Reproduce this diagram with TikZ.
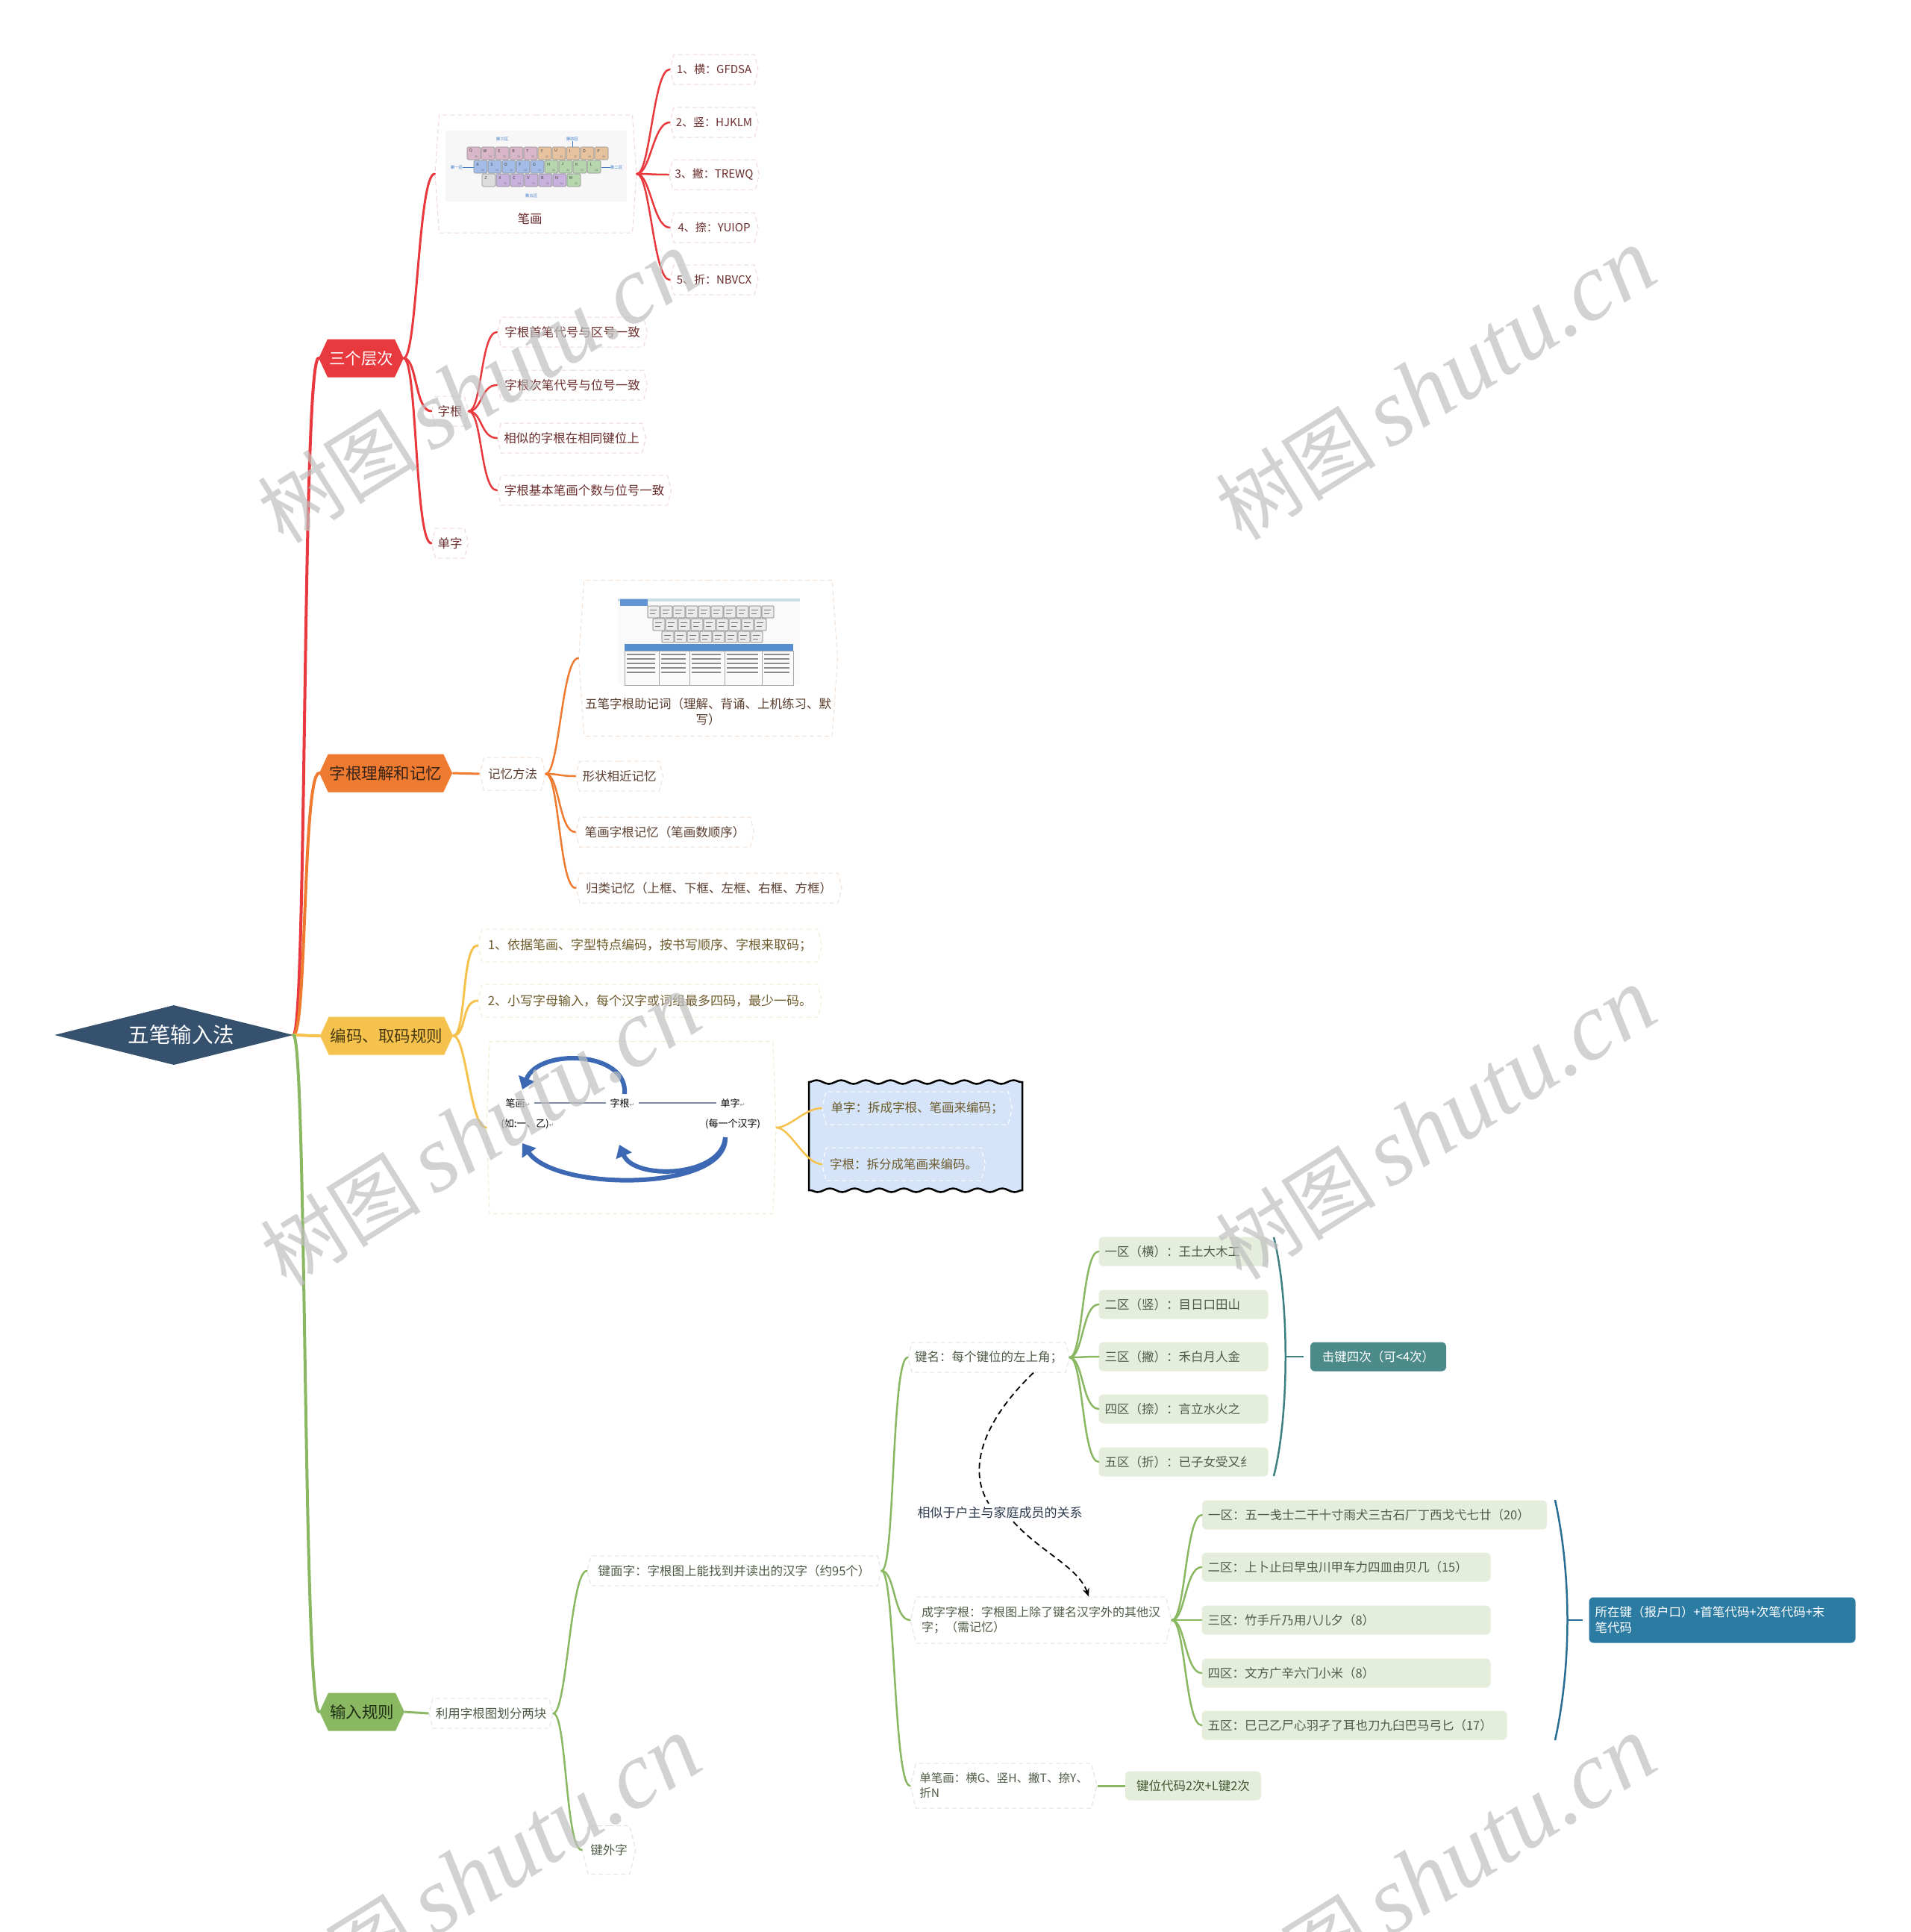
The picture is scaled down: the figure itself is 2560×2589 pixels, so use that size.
\documentclass[tikz,border=0pt]{standalone}
\usepackage{fontspec}
\setmainfont{Noto Sans CJK SC}
\newfontfamily\wmfont{Liberation Serif}
\newfontfamily\symfont{DejaVu Sans}
\usetikzlibrary{shapes.geometric,shapes.symbols,decorations.pathmorphing,arrows.meta,calc}

\definecolor{cRed}{HTML}{E8393E}
\definecolor{cOrange}{HTML}{EE7B2F}
\definecolor{cYellow}{HTML}{F4C24D}
\definecolor{cGreen}{HTML}{8AB862}
\definecolor{cRoot}{HTML}{35516E}
\definecolor{tRed}{HTML}{6B2D2D}
\definecolor{tOrange}{HTML}{5A3D2E}
\definecolor{tYellow}{HTML}{6E5B2C}
\definecolor{tGreen}{HTML}{4F5B46}
\definecolor{tOrangeDark}{HTML}{3A2418}
\definecolor{tYellowDark}{HTML}{4A3A10}
\definecolor{tGreenDark}{HTML}{1F2E14}
\definecolor{bRed}{HTML}{F0D6D6}
\definecolor{bOrange}{HTML}{F2E0D3}
\definecolor{bYellow}{HTML}{F2EAD0}
\definecolor{bGreen}{HTML}{E2E2E2}
\definecolor{leafGreen}{HTML}{E5EEDC}
\definecolor{cTeal}{HTML}{4C8B89}
\definecolor{cTealLine}{HTML}{3E8082}
\definecolor{cBlue}{HTML}{2B7BA3}
\definecolor{cBlueLine}{HTML}{2A6D94}
\definecolor{waveFill}{HTML}{D5E4F8}
\definecolor{arrowBlue}{HTML}{3C68B4}
\definecolor{kbBlue}{HTML}{3A7AC8}
\definecolor{kbP}{HTML}{D9B7C8}
\definecolor{kbT}{HTML}{E6C39E}
\definecolor{kbB}{HTML}{A3BCE8}
\definecolor{kbG}{HTML}{B6D7AE}
\definecolor{kbV}{HTML}{C7B2DE}
\definecolor{kbZ}{HTML}{DDDDDD}
\definecolor{lblColor}{HTML}{2E3B4E}
\definecolor{g7text}{HTML}{3F5530}

\newcommand\lnk[3]{\draw[line cap=round,#1] (#2) .. controls ([xshift=18pt]#2) and ([xshift=-22pt]#3) .. (#3);}
\newcommand\retm{{\symfont\fontsize{8}{9}\selectfont\textcolor{black!45}{↵}}}

\begin{document}
\begin{tikzpicture}[x=1pt,y=-1pt,
  base/.style={font=\fontsize{16.5}{21}\selectfont, inner sep=3pt},
  mainhex/.style={shape=signal, signal to=east and west, signal pointer angle=130,
     font=\fontsize{21.5}{25}\selectfont, minimum height=51pt, inner sep=2pt},
  subhex/.style={base, shape=signal, signal to=east and west, signal pointer angle=152,
     draw, dash pattern=on 6pt off 4pt, line width=1pt, minimum height=40pt},
  redn/.style={subhex, draw=bRed, text=tRed},
  orn/.style={subhex, draw=bOrange, text=tOrange},
  yen/.style={subhex, draw=bYellow, text=tYellow},
  wbn/.style={subhex, draw=white, text=tYellow},
  grn/.style={subhex, draw=bGreen, text=tGreen},
  leaf/.style={base, rectangle, rounded corners=6pt, fill=leafGreen, text=tGreen,
     minimum height=39pt, inner xsep=8pt, align=left},
  solidbox/.style={base, rectangle, rounded corners=6pt, text=white, inner xsep=8pt, align=left},
  kbkey/.style={draw=black!45, line width=0.6pt, rounded corners=1.5pt},
  kblet/.style={font=\fontsize{5.5}{6}\selectfont, text=black!75, inner sep=0pt},
  kbnum/.style={font=\fontsize{3.5}{4}\selectfont, text=black!60, inner sep=0pt},
  kblab/.style={font=\fontsize{5.5}{6}\selectfont, text=kbBlue, inner sep=0pt},
  dgtext/.style={font=\fontsize{13}{15}\selectfont, text=black, inner sep=1pt},
  bigarrow/.style={line width=6pt, draw=arrowBlue, -{Triangle[length=16pt,width=22pt]}},
  wm/.style={rotate=32, text=black!25, opacity=0.7, inner sep=0pt}
]
\useasboundingbox (0,0) rectangle (2560,2589);
\fill[white] (0,0) rectangle (2560,2589);

% ---------------- root ----------------
\node[diamond, aspect=4, fill=cRoot, minimum width=320pt, minimum height=80pt,
      inner sep=0pt] (root) at (233,1387) {};
\node[text=white, font=\fontsize{28.5}{30}\selectfont, inner sep=0pt] (rootT) at (243,1387) {五笔输入法};

% ---------------- main hexagons ----------------
\node[mainhex, fill=cRed, text=white, minimum width=112pt] (h1) at (484,480) {三个层次};
\node[mainhex, fill=cOrange, text=tOrangeDark, minimum width=172pt] (h2) at (517,1036) {字根理解和记忆};
\node[mainhex, fill=cYellow, text=tYellowDark, minimum width=172pt] (h3) at (518,1388) {编码、取码规则};
\node[mainhex, fill=cGreen, text=tGreenDark, minimum width=110pt] (h4) at (485,2294) {输入规则};

\lnk{cRed,line width=4pt}{root.east}{h1.west}
\lnk{cOrange,line width=4pt}{root.east}{h2.west}
\lnk{cYellow,line width=4pt}{root.east}{h3.west}
\lnk{cGreen,line width=4pt}{root.east}{h4.west}

% ---------------- red branch ----------------
\node[redn, signal pointer angle=172, minimum width=270pt, minimum height=158pt] (bh) at (718,233) {};
\fill[black!3] (597,175) rectangle (840,270);
\foreach \L/\N/\C [count=\i from 0] in {Q/35/kbP,W/34/kbP,E/33/kbP,R/32/kbP,T/31/kbP,Y/41/kbT,U/42/kbT,I/43/kbT,O/44/kbT,P/45/kbT}{
  \draw[kbkey, fill=\C] (626+19*\i,197) rectangle ++(18,17);
  \node[kblet] (ka\i) at (631+19*\i,202) {\L};
  \node[kbnum] (kan\i) at (638+19*\i,210) {\N};
}
\foreach \L/\N/\C [count=\i from 0] in {A/15/kbB,S/14/kbB,D/13/kbB,F/12/kbB,G/11/kbB,H/21/kbG,J/22/kbG,K/23/kbG,L/24/kbG}{
  \draw[kbkey, fill=\C] (635+19*\i,215) rectangle ++(18,17);
  \node[kblet] (kb\i) at (640+19*\i,220) {\L};
  \node[kbnum] (kbn\i) at (647+19*\i,228) {\N};
}
\foreach \L/\N/\C [count=\i from 0] in {Z//kbZ,X/55/kbV,C/54/kbV,V/53/kbV,B/52/kbV,N/51/kbV,M/25/kbG}{
  \draw[kbkey, fill=\C] (646+19*\i,233) rectangle ++(18,17);
  \node[kblet] (kc\i) at (651+19*\i,238) {\L};
  \node[kbnum] (kcn\i) at (658+19*\i,246) {\N};
}
\node[kblab] (kl3) at (673,186) {第三区};
\node[kblab] (kl4) at (767,186) {第四区};
\node[kblab] (kl1) at (612,224) {第一区};
\node[kblab] (kl2) at (826,224) {第二区};
\node[kblab] (kl5) at (712,262) {第五区};
\draw[kbBlue, line width=0.5pt] (kl4.south) -- (767,197);
\draw[kbBlue, line width=0.5pt] (kl1.east) -- (635,224);
\draw[kbBlue, line width=0.5pt] (kl2.west) -- (806,224);
\node[base, text=tRed] (bhT) at (710,293) {笔画};

\node[redn, minimum width=118pt, font=\fontsize{15}{18}\selectfont] (r1) at (957,93) {1、横：GFDSA};
\node[redn, minimum width=118pt, font=\fontsize{15}{18}\selectfont] (r2) at (957,164) {2、竖：HJKLM};
\node[redn, minimum width=118pt, font=\fontsize{15}{18}\selectfont] (r3) at (957,234) {3、撇：TREWQ};
\node[redn, minimum width=118pt, font=\fontsize{15}{18}\selectfont] (r4) at (957,305) {4、捺：YUIOP};
\node[redn, minimum width=118pt, font=\fontsize{15}{18}\selectfont] (r5) at (957,375) {5、折：NBVCX};

\node[redn, minimum width=48pt] (zg) at (603,551) {字根};
\node[redn, minimum width=201pt] (zg1) at (767,445) {字根首笔代号与区号一致};
\node[redn, minimum width=201pt] (zg2) at (767,516) {字根次笔代号与位号一致};
\node[redn, minimum width=199pt] (zg3) at (766,587) {相似的字根在相同键位上};
\node[redn, minimum width=233pt] (zg4) at (783,657) {字根基本笔画个数与位号一致};
\node[redn, minimum width=48pt] (dz) at (603,728) {单字};

\lnk{cRed,line width=3pt}{h1.east}{bh.west}
\lnk{cRed,line width=3pt}{h1.east}{zg.west}
\lnk{cRed,line width=3pt}{h1.east}{dz.west}
\foreach \n in {r1,r2,r3,r4,r5}{\lnk{cRed,line width=2.5pt}{bh.east}{\n.west}}
\foreach \n in {zg1,zg2,zg3,zg4}{\lnk{cRed,line width=2.5pt}{zg.east}{\n.west}}

% ---------------- orange branch ----------------
\node[orn, minimum width=88pt, minimum height=44pt] (jy) at (687,1037) {记忆方法};
\node[orn, signal pointer angle=172, minimum width=347pt, minimum height=209pt] (im2) at (949,882) {};
\fill[black!2] (828,802) rectangle (1072,918);
\fill[cBlue!25] (828,802) rectangle (1072,806);
\fill[kbBlue!80] (831,803) rectangle (868,812);
\foreach \i in {0,...,9}{\draw[fill=black!8, draw=black!55, line width=0.6pt, rounded corners=1pt] (868+17*\i,812) rectangle ++(16,16);
  \draw[black!55, line width=1pt] (871+17*\i,817) -- ++(9,0) (871+17*\i,822) -- ++(7,0);}
\foreach \i in {0,...,8}{\draw[fill=black!8, draw=black!55, line width=0.6pt, rounded corners=1pt] (875+17*\i,829) rectangle ++(16,16);
  \draw[black!55, line width=1pt] (878+17*\i,834) -- ++(9,0) (878+17*\i,839) -- ++(7,0);}
\foreach \i in {0,...,7}{\draw[fill=black!8, draw=black!55, line width=0.6pt, rounded corners=1pt] (887+17*\i,846) rectangle ++(16,15);
  \draw[black!55, line width=1pt] (890+17*\i,851) -- ++(9,0) (890+17*\i,856) -- ++(7,0);}
\fill[kbBlue!85] (837,863) rectangle (1063,872);
\draw[black!35, line width=0.6pt] (837,872) rectangle (1063,918);
\foreach \x in {883,924,971,1021}{\draw[black!35, line width=0.6pt] (\x,872) -- (\x,918);}
\foreach \a/\b in {837/883,883/924,924/971,971/1021,1021/1063}{
  \foreach \y in {877,883,889,895,901}{\draw[black!45, line width=1.3pt] (\a+3,\y) -- (\b-5,\y);}}
\node[base, text=tOrange, align=center] (im2T) at (949,954) {五笔字根助记词（理解、背诵、上机练习、默\\写）};

\node[orn, minimum width=117pt] (o1) at (830,1040) {形状相近记忆};
\node[orn, minimum width=239pt] (o2) at (891,1115) {笔画字根记忆（笔画数顺序）};
\node[orn, minimum width=356pt] (o3) at (950,1190) {归类记忆（上框、下框、左框、右框、方框）};

\draw[cOrange, line width=3pt] (h2.east) -- (jy.west);
\foreach \n in {im2,o1,o2,o3}{\lnk{cOrange,line width=2.5pt}{jy.east}{\n.west}}

% ---------------- yellow branch ----------------
\node[yen, minimum width=461pt, minimum height=44pt, font=\fontsize{17}{20}\selectfont] (y1) at (871,1267) {1、依据笔画、字型特点编码，按书写顺序、字根来取码；};
\node[yen, minimum width=461pt, minimum height=44pt, font=\fontsize{17}{20}\selectfont] (y2) at (871,1341) {2、小写字母输入，每个汉字或词组最多四码，最少一码。};
\node[yen, signal pointer angle=176, minimum width=388pt, minimum height=231pt] (yb) at (846,1511) {};

\node[dgtext] (d1) at (694,1478) {笔画\retm};
\node[dgtext] (d2) at (834,1478) {字根\retm};
\node[dgtext] (d3) at (982,1478) {单字\retm};
\node[dgtext] (d4) at (707,1506) {(如:一、乙)\retm};
\node[dgtext] (d5) at (982,1506) {(每一个汉字)};
\draw[black!40!arrowBlue!60, line width=1.2pt] ([xshift=4pt]d1.east) -- ([xshift=-4pt]d2.west);
\draw[black!40!arrowBlue!60, line width=1.2pt] ([xshift=4pt]d2.east) -- ([xshift=-4pt]d3.west);
\draw[bigarrow] (837,1466) .. controls (842,1408) and (722,1404) .. (700,1460);
\draw[bigarrow] (972,1524) .. controls (975,1597) and (745,1597) .. (700,1532);
\draw[bigarrow] (972,1524) .. controls (968,1578) and (850,1582) .. (830,1534);

\draw[line width=2.5pt, fill=waveFill, decoration={snake, amplitude=2.5pt, segment length=33pt}]
  (1084,1450) decorate {-- (1370,1450)} -- (1370,1595) decorate {-- (1084,1595)} -- cycle;
\node[wbn, minimum width=255pt, minimum height=44pt] (y3) at (1229,1485) {单字：拆成字根、笔画来编码；};
\node[wbn, minimum width=219pt, minimum height=44pt] (y4) at (1211,1560) {字根：拆分成笔画来编码。};

\foreach \n in {y1,y2,yb}{\lnk{cYellow,line width=3pt}{h3.east}{\n.west}}
\foreach \n in {y3,y4}{\lnk{cYellow,line width=2.5pt}{yb.east}{\n.west}}

% ---------------- green branch ----------------
\node[grn, minimum width=166pt] (g1) at (658,2296) {利用字根图划分两块};
\node[grn, minimum width=394pt] (g2) at (984,2105) {键面字：字根图上能找到并读出的汉字（约95个）};
\node[grn, minimum width=68pt, minimum height=65pt] (g3) at (816,2479) {键外字};
\node[grn, minimum width=216pt] (g4) at (1325,1819) {键名：每个键位的左上角；};
\node[grn, minimum width=350pt, minimum height=62pt, align=left, font=\fontsize{16}{20}\selectfont] (g5) at (1395,2171) {成字字根：字根图上除了键名汉字外的其他汉\\字；（需记忆）};
\node[grn, minimum width=250pt, minimum height=60pt, align=left, font=\fontsize{15.5}{20}\selectfont] (g6) at (1345,2393) {单笔画：横G、竖H、撇T、捺Y、\\折N};

\node[leaf, text width=211pt] (k1) at (1586,1677) {一区（横）：王土大木工};
\node[leaf, text width=211pt] (k2) at (1586,1748) {二区（竖）：目日口田山};
\node[leaf, text width=211pt] (k3) at (1586,1818) {三区（撇）：禾白月人金};
\node[leaf, text width=211pt] (k4) at (1586,1888) {四区（捺）：言立水火之};
\node[leaf, text width=211pt] (k5) at (1586,1959) {五区（折）：已子女受又纟};
\node[solidbox, fill=cTeal, minimum width=182pt, minimum height=39pt, align=center] (t1) at (1847,1818) {击键四次（可<4次）};

\node[leaf, text width=446pt] (c1) at (1842,2030) {一区：五一戋士二干十寸雨犬三古石厂丁西戈弋七廿（20）};
\node[leaf, text width=371pt] (c2) at (1804,2100) {二区：上卜止曰早虫川甲车力四皿由贝几（15）};
\node[leaf, text width=371pt] (c3) at (1804,2171) {三区：竹手斤乃用八儿夕（8）};
\node[leaf, text width=371pt] (c4) at (1804,2242) {四区：文方广辛六门小米（8）};
\node[leaf, text width=393pt] (c5) at (1815,2312) {五区：巳己乙尸心羽孑了耳也刀九臼巴马弓匕（17）};
\node[solidbox, fill=cBlue, text width=341pt, minimum height=61pt] (t2) at (2308,2171) {所在键（报户口）+首笔代码+次笔代码+末\\笔代码};

\node[leaf, text width=166pt, align=center, text=g7text] (g7) at (1599,2393) {键位代码2次+L键2次};

\draw[cGreen, line width=3pt] (h4.east) -- (g1.west);
\foreach \n in {g2,g3}{\lnk{cGreen,line width=2.5pt}{g1.east}{\n.west}}
\foreach \n in {g4,g5,g6}{\lnk{cGreen,line width=2.5pt}{g2.east}{\n.west}}
\foreach \n in {k1,k2,k3,k4,k5}{\lnk{cGreen,line width=2.5pt}{g4.east}{\n.west}}
\foreach \n in {c1,c2,c3,c4,c5}{\lnk{cGreen,line width=2.5pt}{g5.east}{\n.west}}
\draw[cGreen, line width=3pt] (g6.east) -- (g7.west);

% summary brackets
\coordinate (s1a) at (1707,1658);
\coordinate (s1b) at (1707,1978);
\coordinate (s1m) at (1723,1818);
\coordinate (s1e) at (1747,1818);
\draw[cTealLine, line width=2.5pt] (s1a) .. controls (1728,1740) and (1728,1896) .. (s1b);
\draw[cTealLine, line width=2.5pt] (s1m) -- (s1e);
\coordinate (s2a) at (2084,2010);
\coordinate (s2b) at (2084,2332);
\coordinate (s2m) at (2100,2171);
\coordinate (s2e) at (2121,2171);
\draw[cBlueLine, line width=2.5pt] (s2a) .. controls (2106,2110) and (2106,2232) .. (s2b);
\draw[cBlueLine, line width=2.5pt] (s2m) -- (s2e);

% dashed relation
\node[font=\fontsize{17}{19}\selectfont, text=lblColor, inner sep=4pt] (lbl) at (1340,2027) {相似于户主与家庭成员的关系};
\draw[line width=1.8pt, dash pattern=on 8pt off 5pt] ([xshift=60pt]g4.south) .. controls (1322,1900) and (1294,1965) .. ([xshift=-15pt]lbl.north);
\draw[line width=1.8pt, dash pattern=on 8pt off 5pt, -{Stealth[length=11pt,width=9pt]}] ([xshift=18pt]lbl.south) .. controls (1395,2080) and (1445,2100) .. ([xshift=64pt]g5.north);

% watermarks
\begin{scope}
\clip (0,0) rectangle (2560,2589);
\foreach \x/\y [count=\i] in {640/520,1924/516,644/1516,1924/1507,644/2510,1924/2510}{
  \node[wm] (wm\i) at (\x,\y) {\fontsize{108}{120}\selectfont 树图\hspace{18pt}{\wmfont\itshape\fontsize{128}{130}\selectfont shutu.cn}};
}
\end{scope}
\end{tikzpicture}
\end{document}
